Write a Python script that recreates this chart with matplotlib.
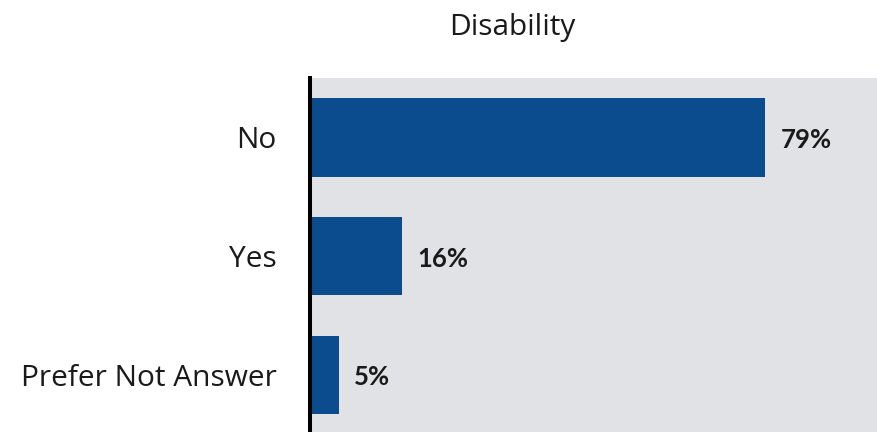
import matplotlib
matplotlib.use('Agg')
import matplotlib.pyplot as plt

# Data
categories = ['No', 'Yes', 'Prefer Not Answer']
values = [79, 16, 5]
labels = ['79%', '16%', '5%']

bar_color = '#0a4c8e'
bg_color = '#e1e2e6'
text_color = '#1a1a1a'

plt.rcParams['font.family'] = ['Open Sans', 'DejaVu Sans']

fig = plt.figure(figsize=(8.77, 4.32), dpi=100)
ax = fig.add_axes([310 / 877, 0, 567 / 877, 354 / 432])
ax.set_facecolor(bg_color)

ypos = range(len(categories))
ax.barh(ypos, values, height=0.66, color=bar_color, zorder=2)

for y, v, lab in zip(ypos, values, labels):
    ax.text(v + 2.7, y + 0.02, lab, va='center', ha='left', fontsize=18.5,
            fontweight='bold', color=text_color,
            family=['Lato', 'DejaVu Sans'])

ax.set_xlim(0, 98.4)
ax.set_ylim(2.48, -0.5)
ax.set_yticks(list(ypos))
ax.set_yticklabels(categories, fontsize=21.5, color=text_color)
ax.tick_params(axis='y', length=0, pad=24)
ax.set_xticks([])

for s in ['top', 'right', 'bottom']:
    ax.spines[s].set_visible(False)
ax.spines['left'].set_linewidth(2.9)
ax.spines['left'].set_color('black')
ax.spines['left'].set_zorder(3)

fig.text(512 / 877, 1 - 28 / 432, 'Disability', ha='center', va='center',
         fontsize=21.5, color=text_color)

fig.savefig('out.png', dpi=100)
